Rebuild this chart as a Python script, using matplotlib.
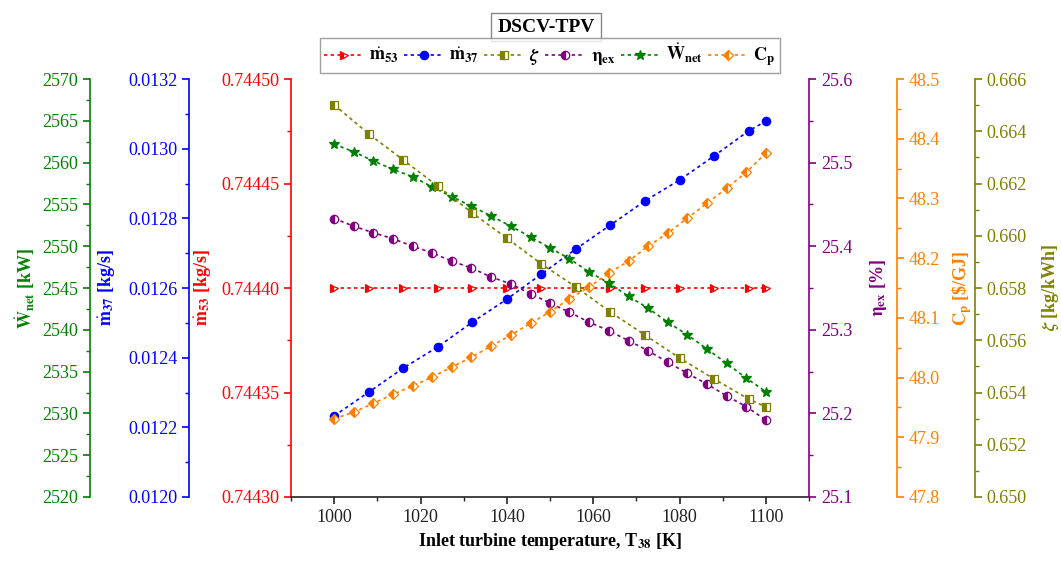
import matplotlib
matplotlib.use('Agg')
import matplotlib.pyplot as plt
from matplotlib.ticker import MultipleLocator, FormatStrFormatter

plt.rcParams['font.family'] = ['Liberation Serif', 'DejaVu Serif']
plt.rcParams['mathtext.fontset'] = 'stix'

# Data
t_coarse = [1000, 1008, 1016, 1024, 1032, 1040, 1048, 1056, 1064, 1072, 1080, 1088, 1096, 1100]
t_fine = [1000, 1004.5, 1009.1, 1013.6, 1018.2, 1022.7, 1027.3, 1031.8, 1036.4, 1040.9, 1045.5, 1050,
          1054.5, 1059.1, 1063.6, 1068.2, 1072.7, 1077.3, 1081.8, 1086.4, 1090.9, 1095.5, 1100]

m53 = [0.7444] * 14
m37 = [0.012233, 0.012301, 0.012370, 0.012431, 0.012502, 0.012568, 0.012640,
       0.012712, 0.012781, 0.012850, 0.012910, 0.012979, 0.013051, 0.013079]
zeta = [0.66501, 0.66390, 0.66290, 0.66190, 0.66087, 0.65991, 0.65892,
        0.65804, 0.65708, 0.65620, 0.65532, 0.65452, 0.65375, 0.65345]
eta_ex = [25.433, 25.424, 25.416, 25.409, 25.400, 25.392, 25.382, 25.374, 25.363, 25.355, 25.343, 25.332,
          25.321, 25.309, 25.299, 25.287, 25.275, 25.261, 25.248, 25.235, 25.221, 25.208, 25.192]
w_net = [2562.2, 2561.3, 2560.2, 2559.2, 2558.3, 2557.1, 2555.9, 2554.8, 2553.6, 2552.4, 2551.1, 2549.8,
         2548.5, 2546.9, 2545.6, 2544.0, 2542.6, 2540.9, 2539.4, 2537.7, 2536.0, 2534.2, 2532.6]
c_p = [47.931, 47.942, 47.957, 47.972, 47.986, 48.001, 48.018, 48.034, 48.053, 48.071, 48.091, 48.110,
       48.132, 48.152, 48.175, 48.195, 48.220, 48.242, 48.267, 48.292, 48.317, 48.344, 48.376]

RED, BLUE, OLIVE, PURPLE, GREEN, ORANGE = '#ff0000', '#0000ff', '#808000', '#800080', '#008000', '#ff8000'

fig = plt.figure(figsize=(10.61, 5.64), dpi=100)
ax = fig.add_axes([0.2743, 0.1188, 0.4882, 0.7411])

ax_blue = ax.twinx()
ax_green = ax.twinx()
ax_purple = ax.twinx()
ax_orange = ax.twinx()
ax_olive = ax.twinx()

# (axes, color, ylim, major, minor, fmt, side, spine pos, label, label x)
specs = [
    (ax, RED, (0.7443, 0.7445), 0.00005, 0.000025, '%.5f', 'left', 0.0,
     r'$\dot{\mathbf{m}}_{\mathbf{53}}$ [kg/s]', -0.151),
    (ax_blue, BLUE, (0.0120, 0.0132), 0.0002, 0.0001, '%.4f', 'left', -0.197,
     r'$\dot{\mathbf{m}}_{\mathbf{37}}$ [kg/s]', -0.336),
    (ax_green, GREEN, (2520, 2570), 5, 2.5, '%d', 'left', -0.388,
     r'$\dot{\mathbf{W}}_{\mathbf{net}}$ [kW]', -0.49),
    (ax_purple, PURPLE, (25.1, 25.6), 0.1, 0.05, '%.1f', 'right', 1.0,
     r'$\mathbf{\eta}_{\mathbf{ex}}$ [%]', 1.114),
    (ax_orange, ORANGE, (47.8, 48.5), 0.1, 0.05, '%.1f', 'right', 1.170,
     r'$\mathbf{C}_{\mathbf{p}}$ [\$/GJ]', 1.272),
    (ax_olive, OLIVE, (0.650, 0.666), 0.002, 0.001, '%.3f', 'right', 1.320,
     r'$\boldsymbol{\zeta}$ [kg/kWh]', 1.446),
]

for a, col, lim, maj, mnr, fmt, side, pos, lab, lx in specs:
    for s in ['top', 'left', 'right', 'bottom']:
        a.spines[s].set_visible(False)
    a.spines[side].set_visible(True)
    a.spines[side].set_position(('axes', pos))
    a.spines[side].set_color(col)
    a.spines[side].set_linewidth(1.2)
    a.yaxis.set_ticks_position(side)
    a.yaxis.set_label_position(side)
    a.set_ylim(*lim)
    a.yaxis.set_major_locator(MultipleLocator(maj))
    a.yaxis.set_minor_locator(MultipleLocator(mnr))
    a.yaxis.set_major_formatter(FormatStrFormatter(fmt))
    a.tick_params(axis='y', which='major', colors=col, labelsize=13, length=5, width=1.2, direction='out')
    a.tick_params(axis='y', which='minor', colors=col, length=3, width=1.0, direction='out')
    a.set_ylabel(lab, color=col, fontsize=13, fontweight='bold')
    a.yaxis.set_label_coords(lx, 0.5)

ax.spines['bottom'].set_visible(True)
ax.spines['bottom'].set_color('#222222')
ax.spines['bottom'].set_linewidth(1.2)
ax.set_xlim(990, 1110)
ax.xaxis.set_major_locator(MultipleLocator(20))
ax.xaxis.set_minor_locator(MultipleLocator(10))
ax.tick_params(axis='x', which='major', labelsize=13, length=5, width=1.2, direction='out', colors='#222222')
ax.tick_params(axis='x', which='minor', length=3, width=1.0, direction='out', colors='#222222')
ax.set_xlabel(r'Inlet turbine temperature, T$_{\mathbf{38}}$ [K]', fontsize=13, fontweight='bold')

ls = dict(linestyle=(0, (2, 2)), linewidth=1.2, markersize=6, markeredgewidth=0.9)
h1, = ax.plot(t_coarse, m53, marker='>', color=RED, fillstyle='left', markerfacecoloralt='white',
              label=r'$\dot{\mathbf{m}}_{\mathbf{53}}$', **ls)
h2, = ax_blue.plot(t_coarse, m37, marker='o', color=BLUE, label=r'$\dot{\mathbf{m}}_{\mathbf{37}}$', **ls)
h3, = ax_olive.plot(t_coarse, zeta, marker='s', color=OLIVE, fillstyle='left', markerfacecoloralt='white',
                    label=r'$\boldsymbol{\zeta}$', **ls)
h4, = ax_purple.plot(t_fine, eta_ex, marker='o', color=PURPLE, fillstyle='left', markerfacecoloralt='white',
                     label=r'$\mathbf{\eta}_{\mathbf{ex}}$', **ls)
h5, = ax_green.plot(t_fine, w_net, marker='*', color=GREEN, label=r'$\dot{\mathbf{W}}_{\mathbf{net}}$',
                    **dict(ls, markersize=7.5))
h6, = ax_orange.plot(t_fine, c_p, marker='D', color=ORANGE, fillstyle='left', markerfacecoloralt='white',
                     label=r'$\mathbf{C}_{\mathbf{p}}$', **dict(ls, markersize=5.5))

leg = fig.legend(handles=[h1, h2, h3, h4, h5, h6], loc='center', bbox_to_anchor=(0.518, 0.902),
                 ncol=6, fontsize=13, frameon=True, fancybox=False, edgecolor='#888888',
                 handlelength=2.2, columnspacing=0.3, handletextpad=0.3, borderpad=0.25)
leg.get_frame().set_linewidth(1.0)

fig.text(0.5146, 0.952, 'DSCV-TPV', ha='center', va='center', fontsize=14, fontweight='bold',
         bbox=dict(boxstyle='square,pad=0.3', fc='white', ec='#888888', lw=1.0))

fig.savefig('out.png', dpi=100)
